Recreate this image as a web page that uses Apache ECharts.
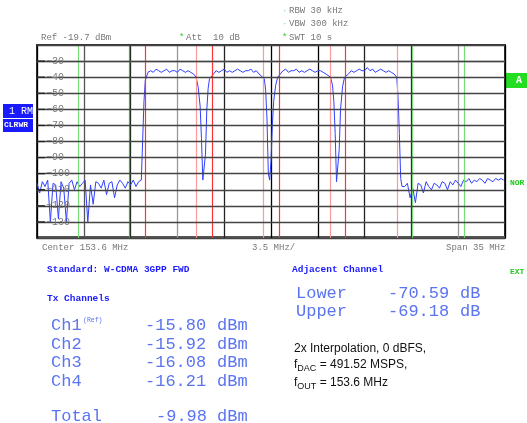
<!DOCTYPE html>
<html><head><meta charset="utf-8">
<script src="https://cdn.jsdelivr.net/npm/echarts@6/dist/echarts.min.js"></script>
<style>html,body{margin:0;padding:0;background:#fff}#c{width:527px;height:423px}</style>
</head><body><div id="c"></div>
<script>
// trace segments, offset from center (MHz) -> level (dBm)
var leftNoise = [-106,-112,-105,-108,-104,-130,-106,-107,-128,-105,-109,-130,-106,-104,-110,-105,-108,-106,-104,-130,-107,-119,-105,-106,-109,-104,-113,-106,-105,-115,-107,-104,-106,-109,-105,-107,-104,-108,-105];
var rightNoise = [-108,-106,-115,-109,-118,-106,-107,-112,-105,-108,-110,-106,-107,-109,-105,-106,-110,-105,-107,-104,-106,-108,-104,-105,-103,-106,-104,-105,-103,-104,-106,-103,-104,-105,-103,-104,-103,-104];
var ch1Top = [-37,-36,-37,-35,-36,-37,-36,-35,-37,-36,-36,-37,-35,-36,-37,-36,-37,-38];
var ch2Top = [-38,-36,-37,-36,-35,-37,-36,-37,-36,-35,-36,-37,-36,-36,-35,-37,-36,-38];
var ch3Top = [-38,-36,-35,-37,-36,-36,-35,-37,-36,-37,-36,-35,-36,-37,-36,-36,-37,-38];
var ch4Top = [-38,-36,-37,-36,-35,-36,-36,-34,-36,-35,-37,-36,-35,-36,-37,-36,-37,-38];
var riseF = [-9.7,-9.6,-9.5,-9.4], riseDb = [-104,-80,-55,-42];
var dip1F = [-5.6,-5.45,-5.3,-5.2,-5.1,-5.0,-4.9,-4.8,-4.7,-4.6], dip1Db = [-40,-46,-58,-78,-104,-105,-88,-60,-47,-41];
var dip2F = [-0.5,-0.4,-0.3,-0.2,-0.1,0,0.1,0.2,0.35,0.5], dip2Db = [-41,-48,-66,-100,-104,-92,-70,-55,-45,-40];
var dip3F = [4.45,4.6,4.7,4.8,4.9,5.0,5.1,5.2,5.35,5.5], dip3Db = [-40,-45,-55,-75,-105,-106,-85,-60,-46,-40];
var fallF = [9.4,9.5,9.6,9.7,9.8], fallDb = [-40,-52,-75,-103,-108];
var gridDb = [-30,-40,-50,-60,-70,-80,-90,-100,-110,-120,-130];
var redLines = [-9.42,-5.58,-4.42,-0.58,0.58,4.42,5.58,9.42];
var greenLines = [-14.42,-10.58,10.58,14.42];
var chNames = ['Ch1','Ch2','Ch3','Ch4'];
var chPower = ['-15.80','-15.92','-16.08','-16.21'];
var totalPower = '-9.98';
var adjNames = ['Lower','Upper'];
var adjValues = ['-70.59','-69.18'];

var trace = [];
function seg(start, step, vals){ vals.forEach(function(v,i){ trace.push([+(start+i*step).toFixed(3), v]); }); }
function pts(fs, ds){ fs.forEach(function(f,i){ trace.push([f, ds[i]]); }); }
seg(-17.5, 0.2, leftNoise);
pts(riseF, riseDb);
seg(-9.2, 0.2, ch1Top);
pts(dip1F, dip1Db);
seg(-4.3, 0.2, ch2Top);
pts(dip2F, dip2Db);
seg(0.7, 0.2, ch3Top);
pts(dip3F, dip3Db);
seg(5.8, 0.2, ch4Top);
pts(fallF, fallDb);
seg(10.0, 0.2, rightNoise);

var mono = '"Liberation Mono", "DejaVu Sans Mono", monospace';
var gray = '#777';
var blue = '#1a1aff';
var lblue = '#5b74f0';

var vlines = [];
redLines.forEach(function(f,i){ vlines.push({xAxis:f, lineStyle:{color: i%2 ? '#f99' : '#f33', width:1.2, type:'solid'}}); });
greenLines.forEach(function(f,i){ vlines.push({xAxis:f, lineStyle:{color: i===1 ? '#3b3' : '#7d7', width:1.2, type:'solid'}}); });

var g = [];
function txt(x,y,t,o){ g.push({type:'text', left:x, top:y, style:Object.assign({text:t, font:'9px '+mono, fill:gray}, o||{})}); }
txt(41,33,'Ref -19.7 dBm');
txt(179,33,'*',{fill:'#2c2'}); txt(186,33,'Att  10 dB');
txt(282,6,'\u00b7',{fill:'#8d8'}); txt(289,6,'RBW 30 kHz');
txt(282,19,'\u00b7',{fill:'#8d8'}); txt(289,19,'VBW 300 kHz');
txt(282,33,'*',{fill:'#2c2'}); txt(289,33,'SWT 10 s');
txt(42,243,'Center 153.6 MHz'); txt(252,243,'3.5 MHz/'); txt(446,243,'Span 35 MHz');
g.push({type:'rect', shape:{x:3,y:104,width:30,height:14}, style:{fill:blue}});
g.push({type:'rect', shape:{x:3,y:119,width:30,height:13}, style:{fill:blue}});
txt(9,106,'1 RM',{fill:'#fff', font:'10px '+mono});
txt(4,121,'CLRWR',{fill:'#fff', font:'bold 8px '+mono});
g.push({type:'rect', shape:{x:505,y:73,width:22,height:15}, style:{fill:'#2d2'}});
txt(516,75,'A',{fill:'#fff', font:'bold 10px '+mono});
txt(510,179,'NOR',{fill:'#2c2', font:'bold 8px '+mono});
txt(510,268,'EXT',{fill:'#2c2', font:'bold 8px '+mono});
txt(47,265,'Standard: W-CDMA 3GPP FWD',{fill:blue, font:'bold 9.5px '+mono});
txt(47,294,'Tx Channels',{fill:blue, font:'bold 9.5px '+mono});
txt(292,265,'Adjacent Channel',{fill:blue, font:'bold 9.5px '+mono});
var big = '17px '+mono;
chNames.forEach(function(n,i){
  var y = 317 + i*18.5;
  txt(51,y,n,{fill:lblue, font:big});
  txt(145,y,chPower[i],{fill:lblue, font:big});
  txt(217,y,'dBm',{fill:lblue, font:big});
});
txt(83,317,'(Ref)',{fill:lblue, font:'6.5px '+mono});
txt(51,408,'Total',{fill:lblue, font:big});
txt(156,408,totalPower,{fill:lblue, font:big});
txt(217,408,'dBm',{fill:lblue, font:big});
adjNames.forEach(function(n,i){
  var y = 285 + i*18;
  txt(296,y,n,{fill:lblue, font:big});
  txt(388,y,adjValues[i],{fill:lblue, font:big});
  txt(460,y,'dB',{fill:lblue, font:big});
});
var sans = '"Liberation Sans", Arial, sans-serif';
txt(294,343,'2x Interpolation, 0 dBFS,',{fill:'#111', font:'12px '+sans});
g.push({type:'text', left:294, top:359, style:{rich:{a:{font:'12px '+sans, fill:'#111'}, s:{font:'9px '+sans, fill:'#111', padding:[7,0,0,0]}}, text:'{a|f}{s|DAC}{a| = 491.52 MSPS,}'}});
g.push({type:'text', left:294, top:377, style:{rich:{a:{font:'12px '+sans, fill:'#111'}, s:{font:'9px '+sans, fill:'#111', padding:[7,0,0,0]}}, text:'{a|f}{s|OUT}{a| = 153.6 MHz}'}});
// small left ticks at each grid level
gridDb.forEach(function(v){
  g.push({type:'line', z:100, shape:{x1:37, y1:0, x2:45, y2:0}, style:{stroke:'#222', lineWidth:1.3},
    y: 45 + (-20 - v) * 193 / 120});
});

var chart = echarts.init(document.getElementById('c'), null, {renderer:'canvas'});
chart.setOption({
  animation:false,
  grid:{left:37, right:22, top:45, bottom:185},
  xAxis:{type:'value', min:-17.5, max:17.5, interval:3.5,
    axisLine:{show:false}, axisTick:{show:false}, axisLabel:{show:false},
    splitLine:{show:true, lineStyle:{color:['#000','#555','#222','#999','#222','#000','#000','#222','#222','#999','#000'], width:1.3}}},
  yAxis:{type:'value', min:-140, max:-20, interval:10, z:10,
    axisLine:{show:false}, axisTick:{show:false},
    axisLabel:{inside:true, margin:9, color:gray, fontFamily:mono, fontSize:10, verticalAlign:'middle', padding:[4,0,0,0],
      formatter:function(v){ return gridDb.indexOf(v) >= 0 ? '\u2212' + (-v) : ''; }},
    splitLine:{show:true, lineStyle:{color:'#444', width:1.3}}},
  series:[{
    type:'line', data:trace, symbol:'none', lineStyle:{color:'#2f3fff', width:1}, silent:true,
    markLine:{symbol:'none', silent:true, label:{show:false}, data:vlines}
  },{
    type:'line', data:[], markLine:{symbol:'none', silent:true, label:{show:false},
      lineStyle:{color:'#999', width:1.3, type:'solid'}, data:[{yAxis:-30}]}
  }],
  graphic:g.concat([{type:'rect', shape:{x:37,y:45,width:468,height:193}, style:{fill:'none', stroke:'#333', lineWidth:2}},
    {type:'rect', shape:{x:37,y:236,width:468,height:3}, style:{fill:'#555'}}])
});
</script></body></html>
